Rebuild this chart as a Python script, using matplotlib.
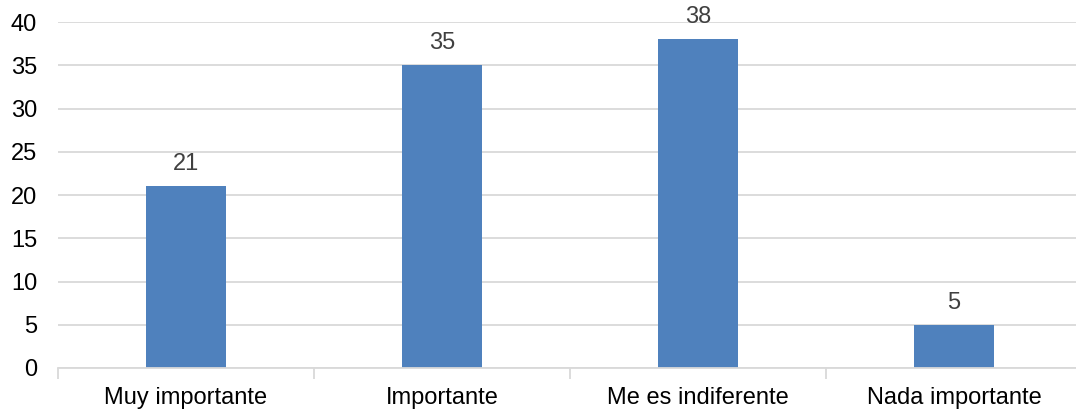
import matplotlib
matplotlib.use("Agg")
import matplotlib.pyplot as plt
import numpy as np

# Datos de la encuesta
categorias = ["Muy importante", "Importante", "Me es indiferente", "Nada importante"]
valores = [21, 35, 38, 5]
ticks_y = [0, 5, 10, 15, 20, 25, 30, 35, 40]

plt.rcParams['font.family'] = ['Liberation Sans', 'DejaVu Sans']

fig = plt.figure(figsize=(10.76, 4.12), dpi=100)
# el eje se extiende un poco fuera del borde derecho
ax = fig.add_axes([58 / 1076, 1 - 368 / 412, 1024 / 1076, 346 / 412])

x = np.arange(len(categorias))
barras = ax.bar(x, valores, width=80 / 256, color='#4f81bd', zorder=3)

for xi, v in zip(x, valores):
    ax.text(xi, v + 1.3, str(v), ha='center', va='bottom', fontsize=17, color='#404040')

ax.set_xlim(-0.5, len(categorias) - 0.5)
ax.set_ylim(0, 40)
ax.set_yticks(ticks_y)
ax.yaxis.grid(True, color='#d9d9d9', linewidth=1.3, zorder=0)
ax.tick_params(axis='y', length=0, labelsize=17, pad=15, labelcolor='#000000')

# etiquetas de categoria centradas, marcas en los limites
ax.set_xticks(x)
ax.set_xticklabels(categorias)
ax.tick_params(axis='x', which='major', length=0, labelsize=17, pad=14)
ax.set_xticks(np.arange(-0.5, len(categorias), 1), minor=True)
ax.tick_params(axis='x', which='minor', length=8, color='#d9d9d9', width=1.3)

for lado in ['top', 'right', 'left']:
    ax.spines[lado].set_visible(False)
ax.spines['bottom'].set_color('#d9d9d9')
ax.spines['bottom'].set_linewidth(1.3)
ax.spines['bottom'].set_zorder(4)

fig.savefig("out.png", dpi=100)
